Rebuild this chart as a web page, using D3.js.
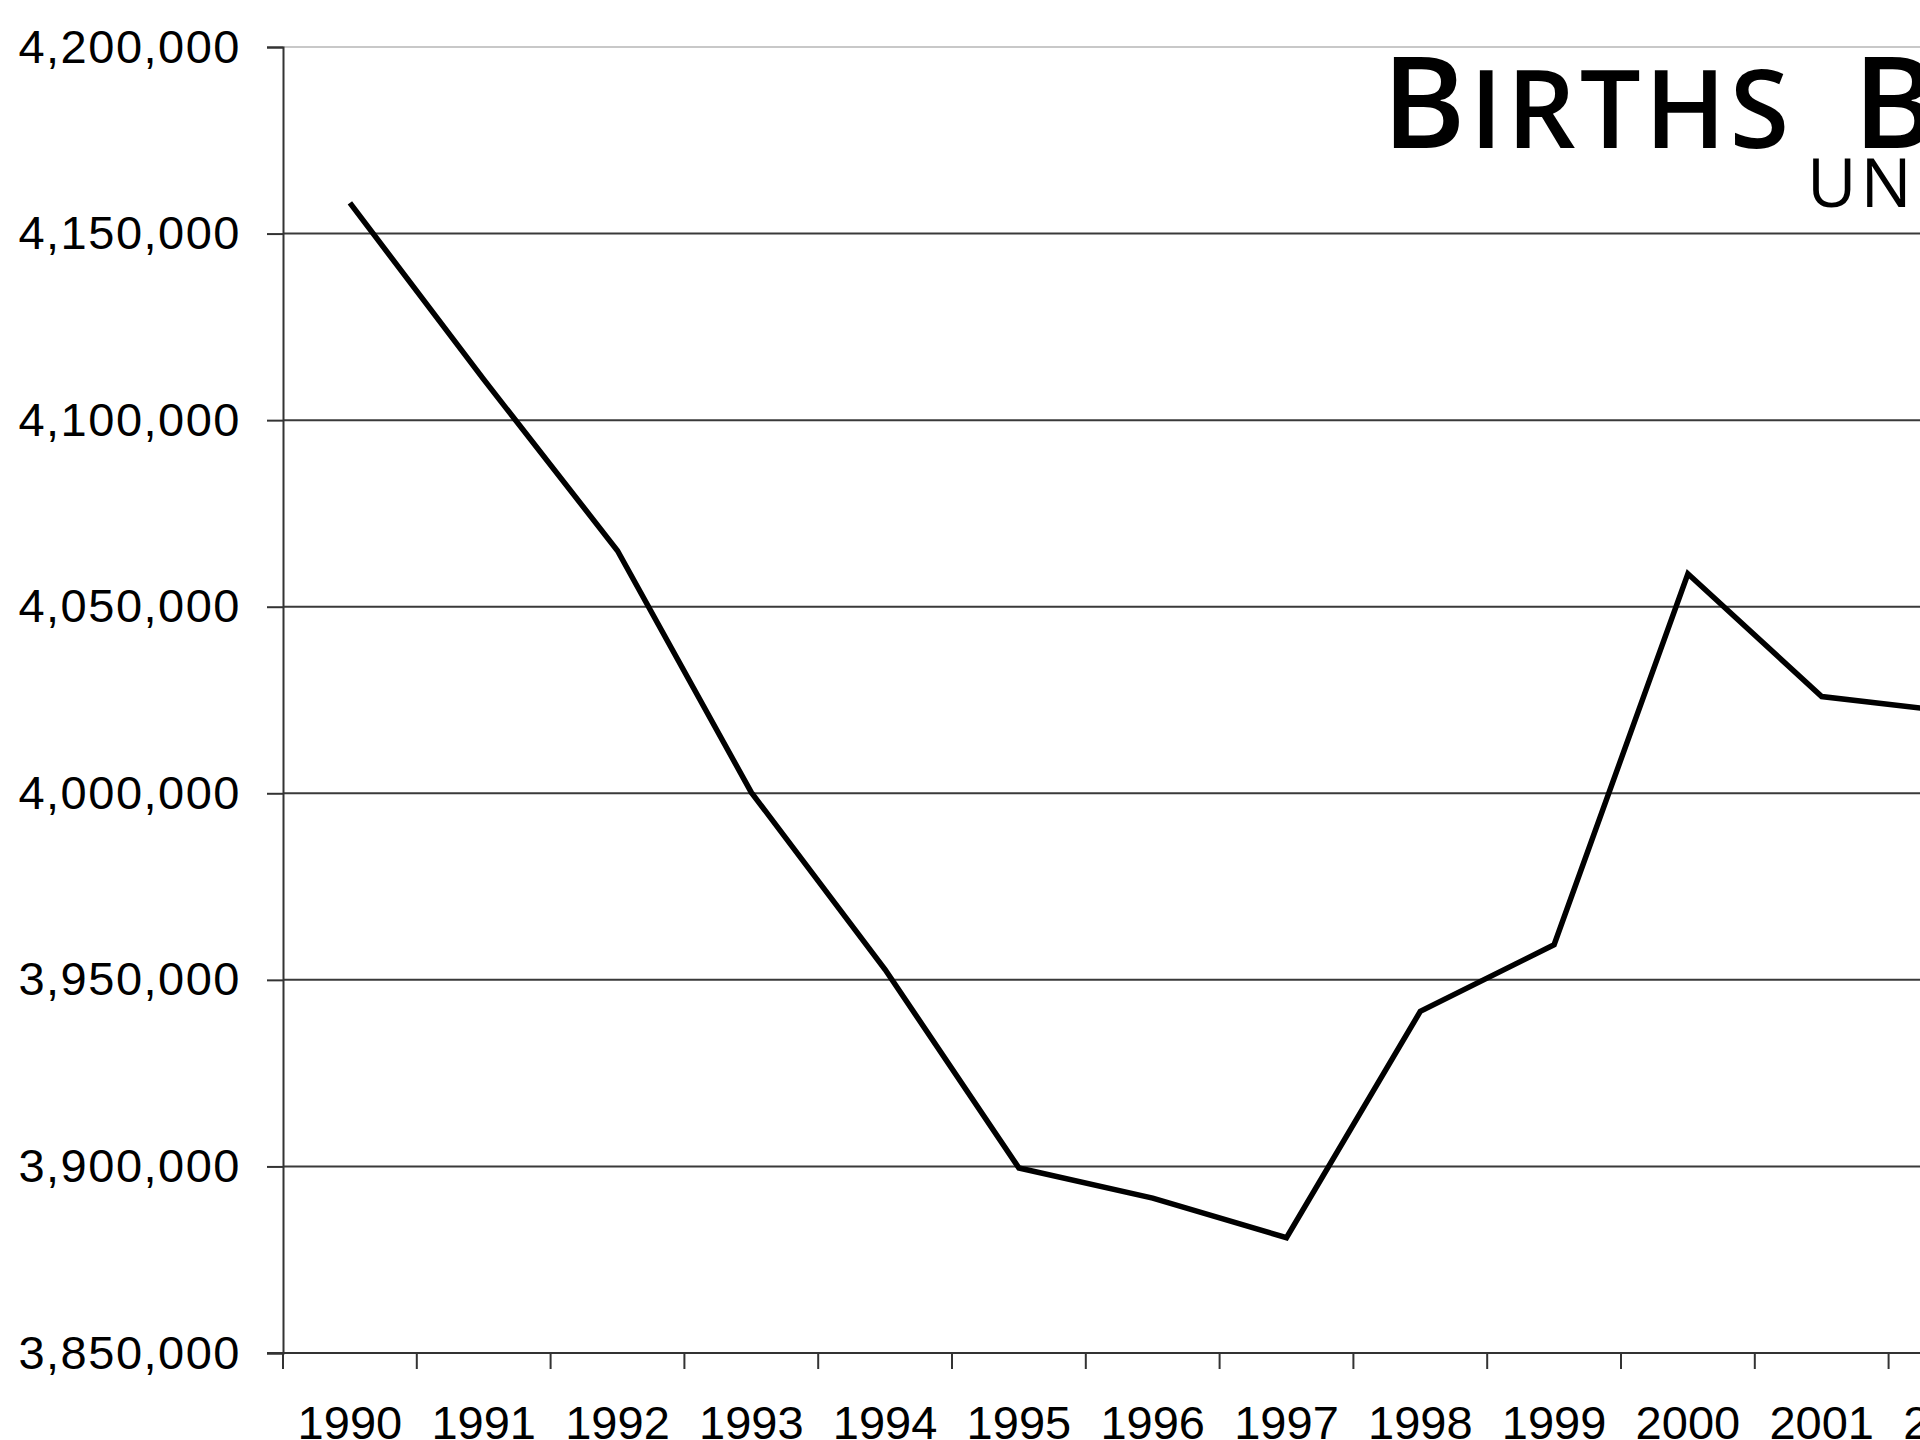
<!DOCTYPE html>
<html>
<head>
<meta charset="utf-8">
<script src="https://cdn.jsdelivr.net/npm/d3@7"></script>
<style>
  html, body { margin: 0; padding: 0; background: #fff; overflow: hidden; }
  svg { display: block; }
</style>
</head>
<body>
<svg id="chart" width="1920" height="1440"></svg>
<script>
// Data: US births by year
const years = ["1990","1991","1992","1993","1994","1995","1996","1997","1998","1999","2000","2001","2002"];
const births = [4158212, 4110907, 4065014, 4000240, 3952767, 3899589, 3891494, 3880894, 3941553, 3959417, 4058814, 4025933, 4021726];
const yTickValues = [3850000, 3900000, 3950000, 4000000, 4050000, 4100000, 4150000, 4200000];
const titleWords = ["Births", "By", "Year"];
const subtitle = "United States";

(function () {
const svg = d3.select("#chart");
const plotLeft = 283, plotTop = 47, plotBottom = 1353;
const step = 133.8;
const plotRight = plotLeft + step * years.length;

const x = d3.scaleBand().domain(years).range([plotLeft, plotRight]).paddingInner(0).paddingOuter(0);
const y = d3.scaleLinear().domain([3850000, 4200000]).range([plotBottom, plotTop]);

// gridlines
svg.append("g").selectAll("line")
  .data(yTickValues.filter(v => v !== 3850000))
  .join("line")
  .attr("x1", plotLeft).attr("x2", plotRight)
  .attr("y1", d => y(d)).attr("y2", d => y(d))
  .attr("stroke", d => d === 4200000 ? "#c8c8c8" : "#3a3a3a")
  .attr("stroke-width", 2);

// y axis
const yAxis = d3.axisLeft(y).tickValues(yTickValues).tickSize(16).tickPadding(26)
  .tickFormat(d3.format(","));
const gy = svg.append("g").attr("transform", `translate(${plotLeft},0)`).call(yAxis);
gy.select(".domain").attr("stroke", "#333").attr("stroke-width", 2);
gy.selectAll(".tick line").attr("stroke", "#333").attr("stroke-width", 2);
gy.selectAll(".tick text")
  .attr("font-family", "'Liberation Sans', Arial, sans-serif")
  .attr("font-size", 47)
  .attr("letter-spacing", 1.5)
  .attr("fill", "#000");

// x axis: labels centered in bands, ticks at band boundaries
const xAxis = d3.axisBottom(x).tickSize(0).tickPadding(53);
const gx = svg.append("g").attr("transform", `translate(0,${plotBottom})`).call(xAxis);
gx.select(".domain").remove();
gx.selectAll(".tick text")
  .attr("font-family", "'Liberation Sans', Arial, sans-serif")
  .attr("font-size", 47)
  .attr("fill", "#000");
svg.append("line")
  .attr("x1", plotLeft - 16).attr("x2", plotRight)
  .attr("y1", plotBottom).attr("y2", plotBottom)
  .attr("stroke", "#333").attr("stroke-width", 2);
svg.append("g").selectAll("line")
  .data(years)
  .join("line")
  .attr("x1", d => x(d)).attr("x2", d => x(d))
  .attr("y1", plotBottom).attr("y2", plotBottom + 16)
  .attr("stroke", "#333").attr("stroke-width", 2);

// data line
const line = d3.line()
  .x((d, i) => x(years[i]) + x.bandwidth() / 2)
  .y(d => y(d));
svg.append("path")
  .datum(births)
  .attr("d", line)
  .attr("fill", "none")
  .attr("stroke", "#000")
  .attr("stroke-width", 5.5)
  .attr("stroke-linejoin", "miter");

// title (small caps look)
const titleFont = "'Open Sans', 'Noto Sans', sans-serif";
const t = svg.append("text")
  .attr("x", 1382).attr("y", 148)
  .attr("font-family", titleFont)
  .attr("font-weight", 600)
  .attr("fill", "#000");
t.append("tspan").attr("font-size", 127).attr("letter-spacing", 4).text(titleWords[0][0].toUpperCase());
t.append("tspan").attr("font-size", 108).attr("letter-spacing", 4).text(titleWords[0].slice(1).toUpperCase());
t.append("tspan").attr("x", 1853).attr("font-size", 127).attr("letter-spacing", 4).text(titleWords[1][0].toUpperCase());
t.append("tspan").attr("font-size", 108).attr("letter-spacing", 4).text(titleWords[1].slice(1).toUpperCase() + " ");
t.append("tspan").attr("font-size", 127).attr("letter-spacing", 4).text(titleWords[2][0].toUpperCase());
t.append("tspan").attr("font-size", 108).attr("letter-spacing", 4).text(titleWords[2].slice(1).toUpperCase());

svg.append("text")
  .attr("x", 1807).attr("y", 207)
  .attr("font-family", titleFont)
  .attr("font-weight", 500)
  .attr("font-size", 68)
  .attr("letter-spacing", 4)
  .attr("fill", "#000")
  .text(subtitle.toUpperCase());
})();
</script>
</body>
</html>
